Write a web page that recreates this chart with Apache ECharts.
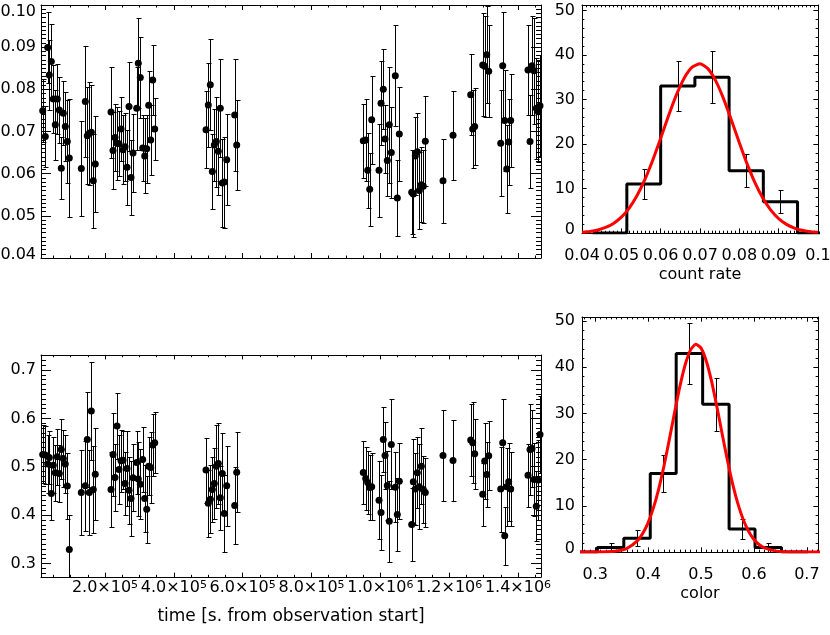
<!DOCTYPE html>
<html>
<head>
<meta charset="utf-8">
<script src="https://cdn.jsdelivr.net/npm/echarts@6/dist/echarts.min.js"></script>
<style>
  html, body { margin: 0; padding: 0; background: #fff; }
  #chart { width: 830px; height: 635px; }
</style>
</head>
<body>
<div id="chart"></div>
<script>
// observation times, s from observation start (shared by both light curves)
var times = [
  18970, 26530, 33500, 38150, 43960, 49770, 55580, 61400, 67210, 73020, 78830, 84640, 90450, 96260,
  131130, 142750, 148560, 154370, 160180, 166000, 171810,
  217430, 223240, 229050, 234860, 240670, 246480, 252290, 258100, 263920, 269730, 275540, 281350,
  292100, 296750, 302560, 309530, 315350, 321160, 326970, 332780, 338590, 344400,
  493450, 500140, 505950, 511760, 517570, 523380, 529190, 535010, 540820, 546630, 553600, 576840, 582660,
  950510, 957480, 963290, 969100, 974910, 996130, 1001940, 1008620, 1013560, 1020240, 1026060, 1031870,
  1043490, 1049300, 1055110, 1091140, 1095790, 1101600, 1107410, 1113220, 1119030, 1124850, 1130660,
  1182080, 1211140,
  1262570, 1268380, 1274190, 1297430, 1303240, 1309050, 1314860, 1349730, 1355540, 1361350, 1367160,
  1372970, 1378780, 1429050, 1434860, 1440670, 1446480, 1453160, 1458980, 1463920
];

var rate = [
  0.0749, 0.0688, 0.0899, 0.0834, 0.0866, 0.0777, 0.0716, 0.0777, 0.0751, 0.0613, 0.0743, 0.0712, 0.0676, 0.0637,
  0.0612, 0.0771, 0.0690, 0.0696, 0.0698, 0.0583, 0.0623,
  0.0746, 0.0655, 0.0686, 0.0672, 0.0671, 0.0706, 0.0657, 0.0664, 0.0615, 0.0759, 0.0591, 0.0649,
  0.0755, 0.0862, 0.0828, 0.0661, 0.0642, 0.0659, 0.0762, 0.0680, 0.0822, 0.0706,
  0.0704, 0.0763, 0.0811, 0.0605, 0.0668, 0.0676, 0.0653, 0.0755, 0.0578, 0.0580, 0.0633, 0.0739, 0.0668,
  0.0678, 0.0680, 0.0608, 0.0563, 0.0728, 0.0608, 0.0767, 0.0800, 0.0682, 0.0631, 0.0716, 0.0650,
  0.0832, 0.0542, 0.0694, 0.0556, 0.0552, 0.0642, 0.0652, 0.0560, 0.0574, 0.0570, 0.0677,
  0.0583, 0.0691,
  0.0787, 0.0706, 0.0712, 0.0858, 0.0855, 0.0882, 0.0843, 0.0672, 0.0856, 0.0726, 0.0611,
  0.0675, 0.0726, 0.0846, 0.0676, 0.0856, 0.0844, 0.0755, 0.0747, 0.0761
];
var rateErr = [
  0.0075, 0.0073, 0.0084, 0.0083, 0.0090, 0.0081, 0.0083, 0.0083, 0.0079, 0.0074, 0.0076, 0.0081, 0.0099, 0.0139,
  0.0113, 0.0132, 0.0115, 0.0122, 0.0112, 0.0112, 0.0113,
  0.0108, 0.0092, 0.0080, 0.0087, 0.0077, 0.0077, 0.0081, 0.0081, 0.0089, 0.0105, 0.0090, 0.0093,
  0.0099, 0.0107, 0.0095, 0.0079, 0.0089, 0.0081, 0.0081, 0.0082, 0.0083, 0.0074,
  0.0091, 0.0100, 0.0108, 0.0088, 0.0085, 0.0107, 0.0104, 0.0116, 0.0104, 0.0108, 0.0108, 0.0133, 0.0107,
  0.0088, 0.0097, 0.0089, 0.0087, 0.0104, 0.0110, 0.0100, 0.0095, 0.0081, 0.0083, 0.0138, 0.0108,
  0.0120, 0.0091, 0.0111, 0.0100, 0.0103, 0.0092, 0.0091, 0.0091, 0.0089, 0.0086, 0.0107,
  0.0099, 0.0106,
  0.0096, 0.0093, 0.0092, 0.0122, 0.0120, 0.0115, 0.0109, 0.0126, 0.0128, 0.0119, 0.0105,
  0.0103, 0.0110, 0.0107, 0.0111, 0.0118, 0.0126, 0.0120, 0.0120, 0.0120
];

var color = [
  0.5254, 0.5240, 0.5054, 0.5192, 0.4447, 0.5033, 0.4875, 0.5205, 0.4861, 0.5357, 0.5171, 0.5054, 0.4599, 0.3289,
  0.4468, 0.4606, 0.5564, 0.4468, 0.6150, 0.4530, 0.4847,
  0.4530, 0.5254, 0.4778, 0.5840, 0.4943, 0.5123, 0.5136, 0.4654, 0.4964, 0.4516, 0.4344, 0.4771,
  0.5088, 0.4744, 0.4640, 0.5150, 0.4344, 0.4123, 0.5012, 0.4985, 0.5447, 0.5495,
  0.4930, 0.4247, 0.4330, 0.4530, 0.4654, 0.5012, 0.5068, 0.4357, 0.4861, 0.4033, 0.4606, 0.4199, 0.4888,
  0.4881, 0.4757, 0.4675, 0.4571, 0.4585, 0.4309, 0.4054, 0.5564, 0.5233, 0.4613, 0.3875, 0.5461,
  0.4578, 0.4013, 0.4702, 0.3806, 0.4688, 0.4537, 0.4875, 0.4585, 0.5012, 0.4530, 0.4468,
  0.5233, 0.5130,
  0.5550, 0.5495, 0.5267, 0.4433, 0.5116, 0.4840, 0.5226, 0.4537, 0.5495, 0.3572, 0.4585,
  0.4688, 0.4537, 0.4826, 0.5357, 0.5378, 0.4737, 0.4185, 0.4723, 0.5667
];
var colorErr = [
  0.060, 0.060, 0.060, 0.055, 0.055, 0.058, 0.058, 0.058, 0.058, 0.062, 0.058, 0.060, 0.068, 0.071,
  0.087, 0.093, 0.099, 0.088, 0.101, 0.090, 0.095,
  0.078, 0.086, 0.070, 0.068, 0.072, 0.064, 0.060, 0.066, 0.077, 0.069, 0.077, 0.069,
  0.065, 0.076, 0.072, 0.067, 0.069, 0.069, 0.060, 0.074, 0.064, 0.063,
  0.067, 0.069, 0.070, 0.068, 0.074, 0.086, 0.083, 0.066, 0.084, 0.080, 0.083, 0.079, 0.082,
  0.066, 0.066, 0.066, 0.068, 0.069, 0.080, 0.078, 0.067, 0.069, 0.072, 0.084, 0.093,
  0.072, 0.076, 0.078, 0.075, 0.088, 0.075, 0.073, 0.088, 0.078, 0.070, 0.072,
  0.095, 0.083,
  0.074, 0.084, 0.072, 0.065, 0.079, 0.068, 0.071, 0.088, 0.090, 0.060, 0.081,
  0.080, 0.077, 0.065, 0.095, 0.080, 0.076, 0.072, 0.083, 0.080
];

// count-rate histogram (bin edges, counts, Poisson errors) and gaussian fit
var rateEdges = [0.0427, 0.0514, 0.0600, 0.0687, 0.0774, 0.0861, 0.0948, 0.1035];
var rateCounts = [0, 11, 33, 35, 14, 7, 0];
var rateCountErr = [0, 3.3, 5.7, 5.9, 3.7, 2.6, 0];
var rateFitX = [0.040, 0.042, 0.044, 0.046, 0.048, 0.050, 0.052, 0.054, 0.056, 0.058, 0.060, 0.062, 0.064, 0.066,
  0.068, 0.070, 0.072, 0.074, 0.076, 0.078, 0.080, 0.082, 0.084, 0.086, 0.088, 0.090, 0.092, 0.094, 0.096, 0.098, 0.100];
var rateFitY = [0.18, 0.36, 0.68, 1.24, 2.16, 3.56, 5.61, 8.42, 12.03, 16.39, 21.28, 26.32, 31.01, 34.83,
  37.26, 37.99, 36.91, 34.16, 30.13, 25.32, 20.28, 15.47, 11.25, 7.79, 5.14, 3.23, 1.94, 1.11, 0.60, 0.31, 0.15];

// color histogram
var colorEdges = [0.254, 0.304, 0.354, 0.404, 0.453, 0.503, 0.553, 0.602, 0.652, 0.702];
var colorCounts = [0, 1, 3, 17, 43, 32, 5, 1, 0];
var colorCountErr = [0, 1.0, 1.7, 4.1, 6.6, 5.7, 2.2, 1.0, 0];
var colorFitX = [0.27, 0.28, 0.30, 0.32, 0.34, 0.36, 0.38, 0.39, 0.40, 0.41, 0.42, 0.43, 0.44, 0.45, 0.46, 0.47,
  0.48, 0.49, 0.50, 0.51, 0.52, 0.53, 0.54, 0.55, 0.56, 0.57, 0.58, 0.59, 0.60, 0.61, 0.62, 0.64, 0.66, 0.68,
  0.70, 0.72, 0.73];
var colorFitY = [0.00, 0.00, 0.01, 0.04, 0.21, 0.78, 2.45, 4.04, 6.36, 9.55, 13.68, 18.68, 24.34, 30.25, 35.86, 40.55,
  43.73, 45.00, 44.15, 41.32, 36.89, 31.41, 25.52, 19.77, 14.61, 10.30, 6.92, 4.44, 2.72, 1.58, 0.88, 0.24, 0.05, 0.01,
  0.00, 0.00, 0.00];

var font = 'DejaVu Sans';

function zip3(a, b, c) {
  return a.map(function (v, i) { return [v, b[i], c[i]]; });
}
function stepData(edges, counts) {
  return edges.map(function (e, i) { return [e, counts[Math.min(i, counts.length - 1)]]; });
}
function histErrData(edges, counts, errs) {
  var out = [];
  counts.forEach(function (c, i) {
    if (errs[i] > 0) out.push([(edges[i] + edges[i + 1]) / 2, c, errs[i]]);
  });
  return out;
}
function near(v, step) {
  var r = v / step;
  return Math.abs(r - Math.round(r)) < 1e-6;
}

// vertical error bar with small caps, snapped to the pixel grid so the 1px lines stay crisp
function errorBar(params, api) {
  var x = api.value(0), y = api.value(1), e = api.value(2);
  var hi = api.coord([x, y + e]);
  var lo = api.coord([x, y - e]);
  var px = Math.round(hi[0]) + 0.5;
  var yt = Math.round(hi[1]) + 0.5, yb = Math.round(lo[1]) + 0.5;
  var w = 2;
  var st = { stroke: '#000', lineWidth: 1, fill: null };
  return {
    type: 'group',
    children: [
      { type: 'line', shape: { x1: px, y1: yt, x2: px, y2: yb }, style: st },
      { type: 'line', shape: { x1: px - w, y1: yt, x2: px + w + 1, y2: yt }, style: st },
      { type: 'line', shape: { x1: px - w, y1: yb, x2: px + w + 1, y2: yb }, style: st }
    ]
  };
}

function valueAxis(o) {
  var ax = {
    type: 'value',
    gridIndex: o.grid,
    position: o.pos,
    min: o.min,
    max: o.max,
    axisLine: { show: true, onZero: false, lineStyle: { color: '#000', width: 1 } },
    axisTick: { show: true, inside: true, length: o.tick, lineStyle: { color: '#000', width: 1 } },
    minorTick: { show: true, splitNumber: o.minor, length: o.tick / 2, lineStyle: { color: '#000', width: 1 } },
    splitLine: { show: false },
    minorSplitLine: { show: false },
    axisLabel: { show: false }
  };
  if (o.interval) ax.interval = o.interval;
  if (o.split) ax.splitNumber = o.split;
  if (o.fmt) {
    ax.axisLabel = {
      show: true, formatter: o.fmt, margin: o.margin,
      color: '#000', fontFamily: font, fontSize: 16, rich: o.rich || {}
    };
  }
  if (o.name) {
    ax.name = o.name;
    ax.nameLocation = 'middle';
    ax.nameGap = o.nameGap;
    ax.nameTextStyle = { color: '#000', fontFamily: font, fontSize: o.nameSize || 16 };
  }
  return ax;
}

var T0 = 14030, T1 = 1466800;

function timeFmt(v) {
  if (v <= 0 || !near(v, 200000)) return '';
  var e = Math.floor(Math.log10(v) + 1e-9);
  var m = v / Math.pow(10, e);
  return '{m|' + m.toFixed(1) + '×10}{e|' + e + '}';
}
var timeRich = {
  m: { fontFamily: font, fontSize: 16, color: '#000' },
  e: { fontFamily: font, fontSize: 11, color: '#000', verticalAlign: 'top' }
};
var edgeRich = {
  dn: { fontFamily: font, fontSize: 16, color: '#000', padding: [13, 0, 0, 0] },
  up: { fontFamily: font, fontSize: 16, color: '#000', padding: [0, 0, 7, 0] }
};
function countFmt(v) {
  if (!near(v, 10)) return '';
  return v === 0 ? '{up|0}' : String(Math.round(v));
}

var xAxes = [
  valueAxis({ grid: 0, pos: 'bottom', min: T0, max: T1, split: 7, minor: 4, tick: 5 }),
  valueAxis({ grid: 0, pos: 'top', min: T0, max: T1, split: 7, minor: 4, tick: 5 }),
  valueAxis({ grid: 1, pos: 'bottom', min: 0.04, max: 0.10, interval: 0.01, minor: 10, tick: 4.6,
    fmt: function (v) { return String(parseFloat(v.toFixed(2))); }, margin: 15,
    name: 'count rate', nameGap: 34 }),
  valueAxis({ grid: 1, pos: 'top', min: 0.04, max: 0.10, interval: 0.01, minor: 10, tick: 4.6 }),
  valueAxis({ grid: 2, pos: 'bottom', min: T0, max: T1, split: 7, minor: 4, tick: 4.4,
    fmt: timeFmt, rich: timeRich, margin: 3,
    name: 'time [s. from observation start]', nameGap: 31, nameSize: 17 }),
  valueAxis({ grid: 2, pos: 'top', min: T0, max: T1, split: 7, minor: 4, tick: 4.4 }),
  valueAxis({ grid: 3, pos: 'bottom', min: 0.275, max: 0.721, split: 5, minor: 10, tick: 4.7,
    fmt: function (v) { return near(v, 0.1) ? v.toFixed(1) : ''; }, margin: 15,
    name: 'color', nameGap: 34 }),
  valueAxis({ grid: 3, pos: 'top', min: 0.275, max: 0.721, split: 5, minor: 10, tick: 4.7 })
];

var yAxes = [
  valueAxis({ grid: 0, pos: 'left', min: 0.04, max: 0.10, interval: 0.01, minor: 10, tick: 10,
    fmt: function (v) {
      var s = v.toFixed(2);
      if (Math.abs(v - 0.10) < 1e-6) return '{dn|' + s + '}';
      if (Math.abs(v - 0.04) < 1e-6) return '{up|' + s + '}';
      return s;
    }, rich: edgeRich, margin: 5 }),
  valueAxis({ grid: 0, pos: 'right', min: 0.04, max: 0.10, interval: 0.01, minor: 10, tick: 10 }),
  valueAxis({ grid: 1, pos: 'left', min: 0, max: 51.2, interval: 10, minor: 5, tick: 4.7,
    fmt: countFmt, rich: edgeRich, margin: 7 }),
  valueAxis({ grid: 1, pos: 'right', min: 0, max: 51.2, interval: 10, minor: 5, tick: 4.7 }),
  valueAxis({ grid: 2, pos: 'left', min: 0.272, max: 0.731, split: 5, minor: 10, tick: 10,
    fmt: function (v) { return near(v, 0.1) ? v.toFixed(1) : ''; }, margin: 5 }),
  valueAxis({ grid: 2, pos: 'right', min: 0.272, max: 0.731, split: 5, minor: 10, tick: 10 }),
  valueAxis({ grid: 3, pos: 'left', min: 0, max: 50.9, interval: 10, minor: 5, tick: 4.7,
    fmt: countFmt, rich: edgeRich, margin: 7 }),
  valueAxis({ grid: 3, pos: 'right', min: 0, max: 50.9, interval: 10, minor: 5, tick: 4.7 })
];

var dot = { color: '#000', opacity: 1 };

var option = {
  animation: false,
  backgroundColor: '#fff',
  grid: [
    { left: 41, top: 5, width: 500, height: 253, outerBoundsMode: 'none', containLabel: false },
    { left: 582, top: 5, width: 236, height: 228, outerBoundsMode: 'none', containLabel: false },
    { left: 41, top: 355, width: 500, height: 222, outerBoundsMode: 'none', containLabel: false },
    { left: 582, top: 317, width: 236, height: 235, outerBoundsMode: 'none', containLabel: false }
  ],
  xAxis: xAxes,
  yAxis: yAxes,
  series: [
    {
      type: 'custom', xAxisIndex: 0, yAxisIndex: 0, renderItem: errorBar, clip: true,
      encode: { x: 0, y: 1 }, data: zip3(times, rate, rateErr), z: 2
    },
    {
      type: 'scatter', xAxisIndex: 0, yAxisIndex: 0, symbol: 'circle', symbolSize: 7, clip: true,
      itemStyle: dot, data: zip3(times, rate, rateErr), z: 3
    },
    {
      type: 'custom', xAxisIndex: 4, yAxisIndex: 4, renderItem: errorBar, clip: true,
      encode: { x: 0, y: 1 }, data: zip3(times, color, colorErr), z: 2
    },
    {
      type: 'scatter', xAxisIndex: 4, yAxisIndex: 4, symbol: 'circle', symbolSize: 7, clip: true,
      itemStyle: dot, data: zip3(times, color, colorErr), z: 3
    },
    {
      type: 'line', xAxisIndex: 2, yAxisIndex: 2, step: 'end', showSymbol: false, symbol: 'none', clip: true,
      lineStyle: { color: '#000', width: 3 }, data: stepData(rateEdges, rateCounts), z: 2
    },
    {
      type: 'custom', xAxisIndex: 2, yAxisIndex: 2, renderItem: errorBar, clip: true,
      encode: { x: 0, y: 1 }, data: histErrData(rateEdges, rateCounts, rateCountErr), z: 3
    },
    {
      type: 'line', xAxisIndex: 2, yAxisIndex: 2, smooth: 0.2, showSymbol: false, symbol: 'none', clip: true,
      lineStyle: { color: '#ff0000', width: 3 },
      data: rateFitX.map(function (x, i) { return [x, rateFitY[i]]; }), z: 4
    },
    {
      type: 'line', xAxisIndex: 6, yAxisIndex: 6, step: 'end', showSymbol: false, symbol: 'none', clip: true,
      lineStyle: { color: '#000', width: 3 }, data: stepData(colorEdges, colorCounts), z: 2
    },
    {
      type: 'custom', xAxisIndex: 6, yAxisIndex: 6, renderItem: errorBar, clip: true,
      encode: { x: 0, y: 1 }, data: histErrData(colorEdges, colorCounts, colorCountErr), z: 3
    },
    {
      type: 'line', xAxisIndex: 6, yAxisIndex: 6, smooth: 0.2, showSymbol: false, symbol: 'none', clip: true,
      lineStyle: { color: '#ff0000', width: 3 },
      data: colorFitX.map(function (x, i) { return [x, colorFitY[i]]; }), z: 4
    }
  ]
};

var chart = echarts.init(document.getElementById('chart'));
chart.setOption(option);
</script>
</body>
</html>
